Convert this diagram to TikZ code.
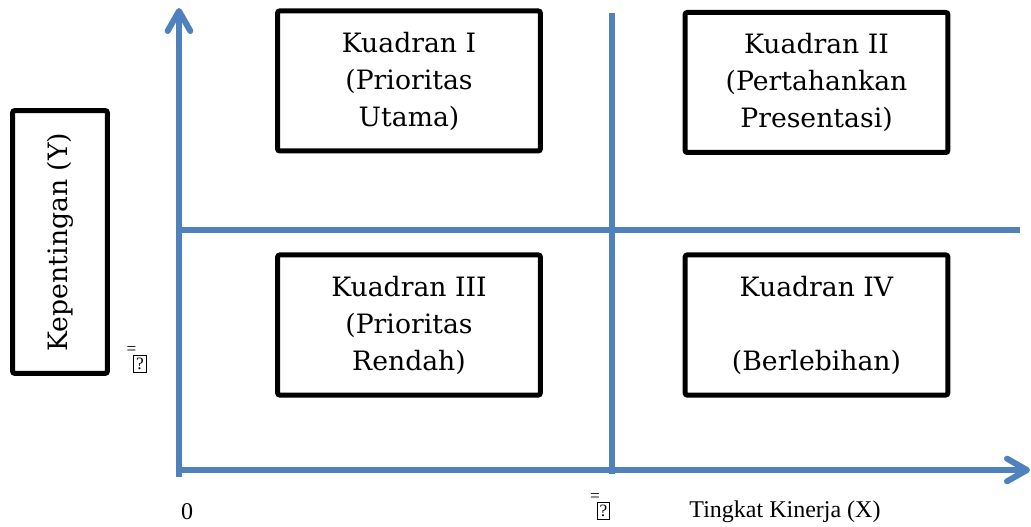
\documentclass[tikz,border=0pt]{standalone}
\usepackage{fontspec}
\setmainfont{Liberation Serif}
\newfontfamily\quadfont{DejaVu Serif}
\usetikzlibrary{arrows.meta}
\definecolor{axisblue}{HTML}{4F81BD}
% glyph that the source font could not show (bar over a boxed ?)
\newcommand{\missingbar}{{\fontsize{13}{13}\selectfont
  \setlength{\fboxsep}{1.6pt}\setlength{\fboxrule}{0.45pt}%
  \makebox[0pt][r]{\raisebox{11pt}[0pt][0pt]{=}\kern-2.2pt}\fbox{?}}}
\tikzset{
  quad/.style={rectangle, rounded corners=1.5pt, draw=black, line width=3.75pt,
               minimum width=197pt, minimum height=105pt, inner sep=0pt,
               align=center, font=\quadfont\fontsize{20}{27.75}\selectfont},
  ylabel/.style={rectangle, rounded corners=1.5pt, draw=black, line width=3.75pt,
                 minimum width=197pt, minimum height=71pt, inner sep=0pt,
                 rotate=90, font=\quadfont\fontsize{20}{24}\selectfont},
  axisline/.style={draw=axisblue, line width=4.5pt},
  axisarrow/.style={axisline, -{Straight Barb[length=15pt, width=17pt, round]}},
  tick/.style={font=\fontsize{18}{20}\selectfont, inner sep=0pt}
}
\begin{document}
\begin{tikzpicture}[x=0.75pt, y=-0.75pt]
\useasboundingbox (0,0) rectangle (1031,527);
% axes and quadrant lines
\coordinate (ybot) at (179,477);
\coordinate (ytop) at (179,8);
\coordinate (xleft) at (176,470);
\coordinate (xright) at (1030,470);
\coordinate (mtop) at (612,13);
\coordinate (mbot) at (612,474);
\coordinate (hleft) at (179,230);
\coordinate (hright) at (1020,230);
\draw[axisline] (mtop) -- (mbot);
\draw[axisline] (hleft) -- (hright);
\draw[axisarrow] (ybot) -- (ytop);
\draw[axisarrow] (xleft) -- (xright);

% quadrant boxes
\node[quad] (k1) at (409,81) {Kuadran I\\(Prioritas\\Utama)};
\node[quad] (k2) at (816.5,82.5) {Kuadran II\\(Pertahankan\\Presentasi)};
\node[quad] (k3) at (409,325) {Kuadran III\\(Prioritas\\Rendah)};
\node[quad] (k4) at (816.5,325) {Kuadran IV\\[27.75pt](Berlebihan)};

% axis labels
\node[ylabel] (ky) at (60,242) {Kepentingan (Y)};
\node (ybar) at (140,364) {\missingbar};
\node[tick] (zero) at (187,512) {0};
\node (xbar) at (603.5,511) {\missingbar};
\node[tick] (kx) at (785,512) {Tingkat Kinerja (X)};
\end{tikzpicture}
\end{document}
